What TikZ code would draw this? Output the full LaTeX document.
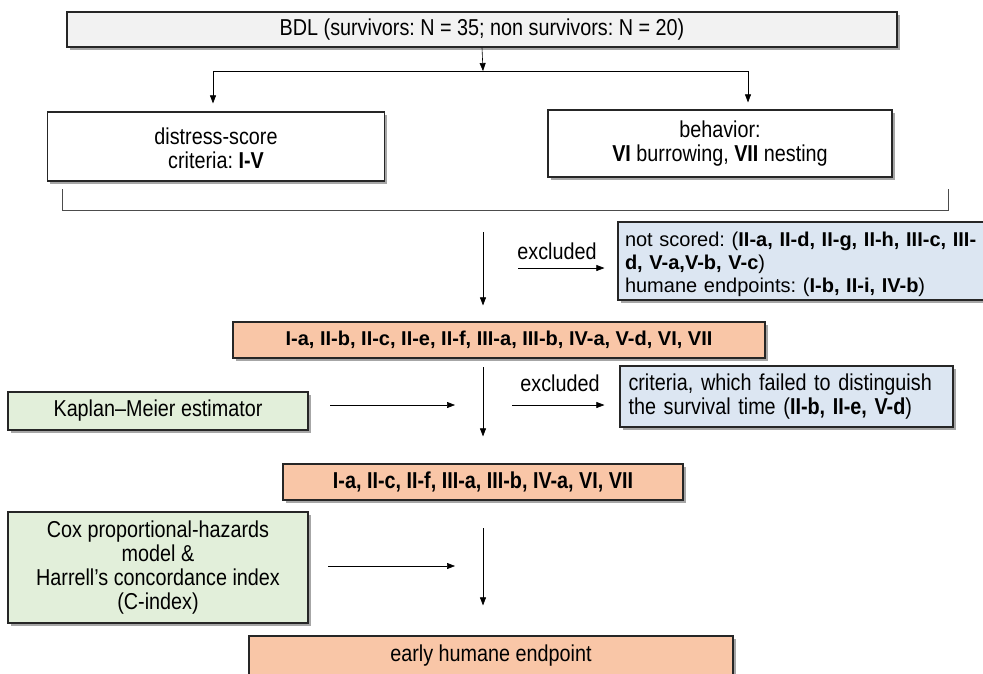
\documentclass[tikz,border=0pt]{standalone}
\usepackage{fontspec}
\setmainfont{Liberation Sans}
\newfontfamily\nar[FakeStretch=0.86,Ligatures=TeX]{Liberation Sans}
\usetikzlibrary{shadows,arrows.meta}
\definecolor{peach}{HTML}{F9C6A7}
\definecolor{lgreen}{HTML}{E2EFDA}
\definecolor{lblue}{HTML}{DCE6F2}
\definecolor{lgray}{HTML}{F2F2F2}
\begin{document}
\frenchspacing
\begin{tikzpicture}[x=1pt,y=-1pt,
  box/.style={draw=black!85, line width=1.2pt, inner sep=0pt, align=center,
    drop shadow={shadow xshift=2.5pt, shadow yshift=-2.5pt, opacity=0.35, fill=black}},
  arr/.style={-{Triangle[length=8pt,width=6pt]}, line width=0.6pt},
  lbl/.style={font=\nar\fontsize{23}{24}\selectfont, inner sep=0pt},
  nfont/.style={font=\nar\fontsize{23}{24}\selectfont}]
\useasboundingbox (0,0) rectangle (983,673);
\fill[white] (0,0) rectangle (983,673);

% top box
\node[box, nfont, fill=lgray, minimum width=830pt, minimum height=35pt] (bdl) at (482,29.5)
  {BDL (survivors: N = 35; non survivors: N = 20)};
\coordinate (split) at (483,71);
\coordinate (sl) at (213,71);
\coordinate (sr) at (748,71);
\draw[arr] (bdl.south) -- (split);
\draw[line width=0.6pt] (sl) -- (sr);

% second row
\node[box, nfont, fill=white, minimum width=337pt, minimum height=69pt] (ds) at (216,146.5)
  {\rule{0pt}{20pt}distress-score\\criteria: \textbf{I-V}};
\node[box, nfont, fill=white, minimum width=344pt, minimum height=67pt] (beh) at (720,143.5)
  {behavior:\\\textbf{VI} burrowing, \textbf{VII} nesting};
\draw[arr, shorten >=8pt] (sl) -- (sl |- ds.north);
\draw[arr, shorten >=7pt] (sr) -- (sr |- beh.north);

% bracket
\coordinate (bl) at (62,189);
\coordinate (br) at (948,189);
\draw[line width=0.6pt, black!70] (bl) -- (62,210) -- (948,210) -- (br);

% first filter
\node[box, fill=lblue, minimum width=366pt, minimum height=78pt, text width=352pt, align=left,
  font=\fontsize{20}{23}\selectfont] (ns) at (801,261)
  {\rule{0pt}{22pt}not scored: (\textbf{II-a, II-d, II-g, II-h, III-c, III-}\\\textbf{d, V-a,V-b, V-c})\\humane endpoints: (\textbf{I-b, II-i, IV-b})};
\node[box, fill=peach, minimum width=532pt, minimum height=36pt,
  font=\bfseries\fontsize{20}{22}\selectfont] (or1) at (499,340)
  {I-a, II-b, II-c, II-e, II-f, III-a, III-b, IV-a, V-d, VI, VII};
\coordinate (a1) at (483,232);
\draw[arr, shorten >=16pt] (a1) -- (a1 |- or1.north);
\coordinate (e1) at (518,268);
\draw[arr, shorten >=13pt] (e1) -- (e1 -| ns.west);
\node[lbl] (ex1) at (557,251) {excluded};

% second filter
\node[box, nfont, fill=lgreen, minimum width=300pt, minimum height=38pt] (km) at (158,411)
  {Kaplan–Meier estimator};
\node[box, nfont, fill=lblue, minimum width=333pt, minimum height=61pt, text width=316pt, align=left] (fail) at (786.5,396.5)
  {criteria, which failed to distinguish\\the survival time (\textbf{II-b, II-e, V-d})};
\node[box, fill=peach, minimum width=400pt, minimum height=36pt,
  font=\nar\bfseries\fontsize{23}{24}\selectfont] (or2) at (483,482)
  {I-a, II-c, II-f, III-a, III-b, IV-a, VI, VII};
\coordinate (k1) at (330,405);
\coordinate (k2) at (455,405);
\draw[arr] (k1) -- (k2);
\coordinate (a2) at (483,367);
\draw[arr, shorten >=27pt] (a2) -- (a2 |- or2.north);
\coordinate (e2) at (512,405);
\draw[arr, shorten >=15pt] (e2) -- (e2 -| fail.west);
\node[lbl] (ex2) at (560,383) {excluded};

% third stage
\node[box, nfont, fill=lgreen, minimum width=300pt, minimum height=111pt] (cox) at (158,567.5)
  {Cox proportional-hazards\\model \&\\Harrell’s concordance index\\(C-index)};
\node[box, nfont, fill=peach, minimum width=484pt, minimum height=40pt] (end) at (491,656)
  {early humane endpoint};
\coordinate (c1) at (328,566);
\coordinate (c2) at (455,566);
\draw[arr] (c1) -- (c2);
\coordinate (a3) at (483,528);
\draw[arr, shorten >=30pt] (a3) -- (a3 |- end.north);
\end{tikzpicture}
\end{document}
